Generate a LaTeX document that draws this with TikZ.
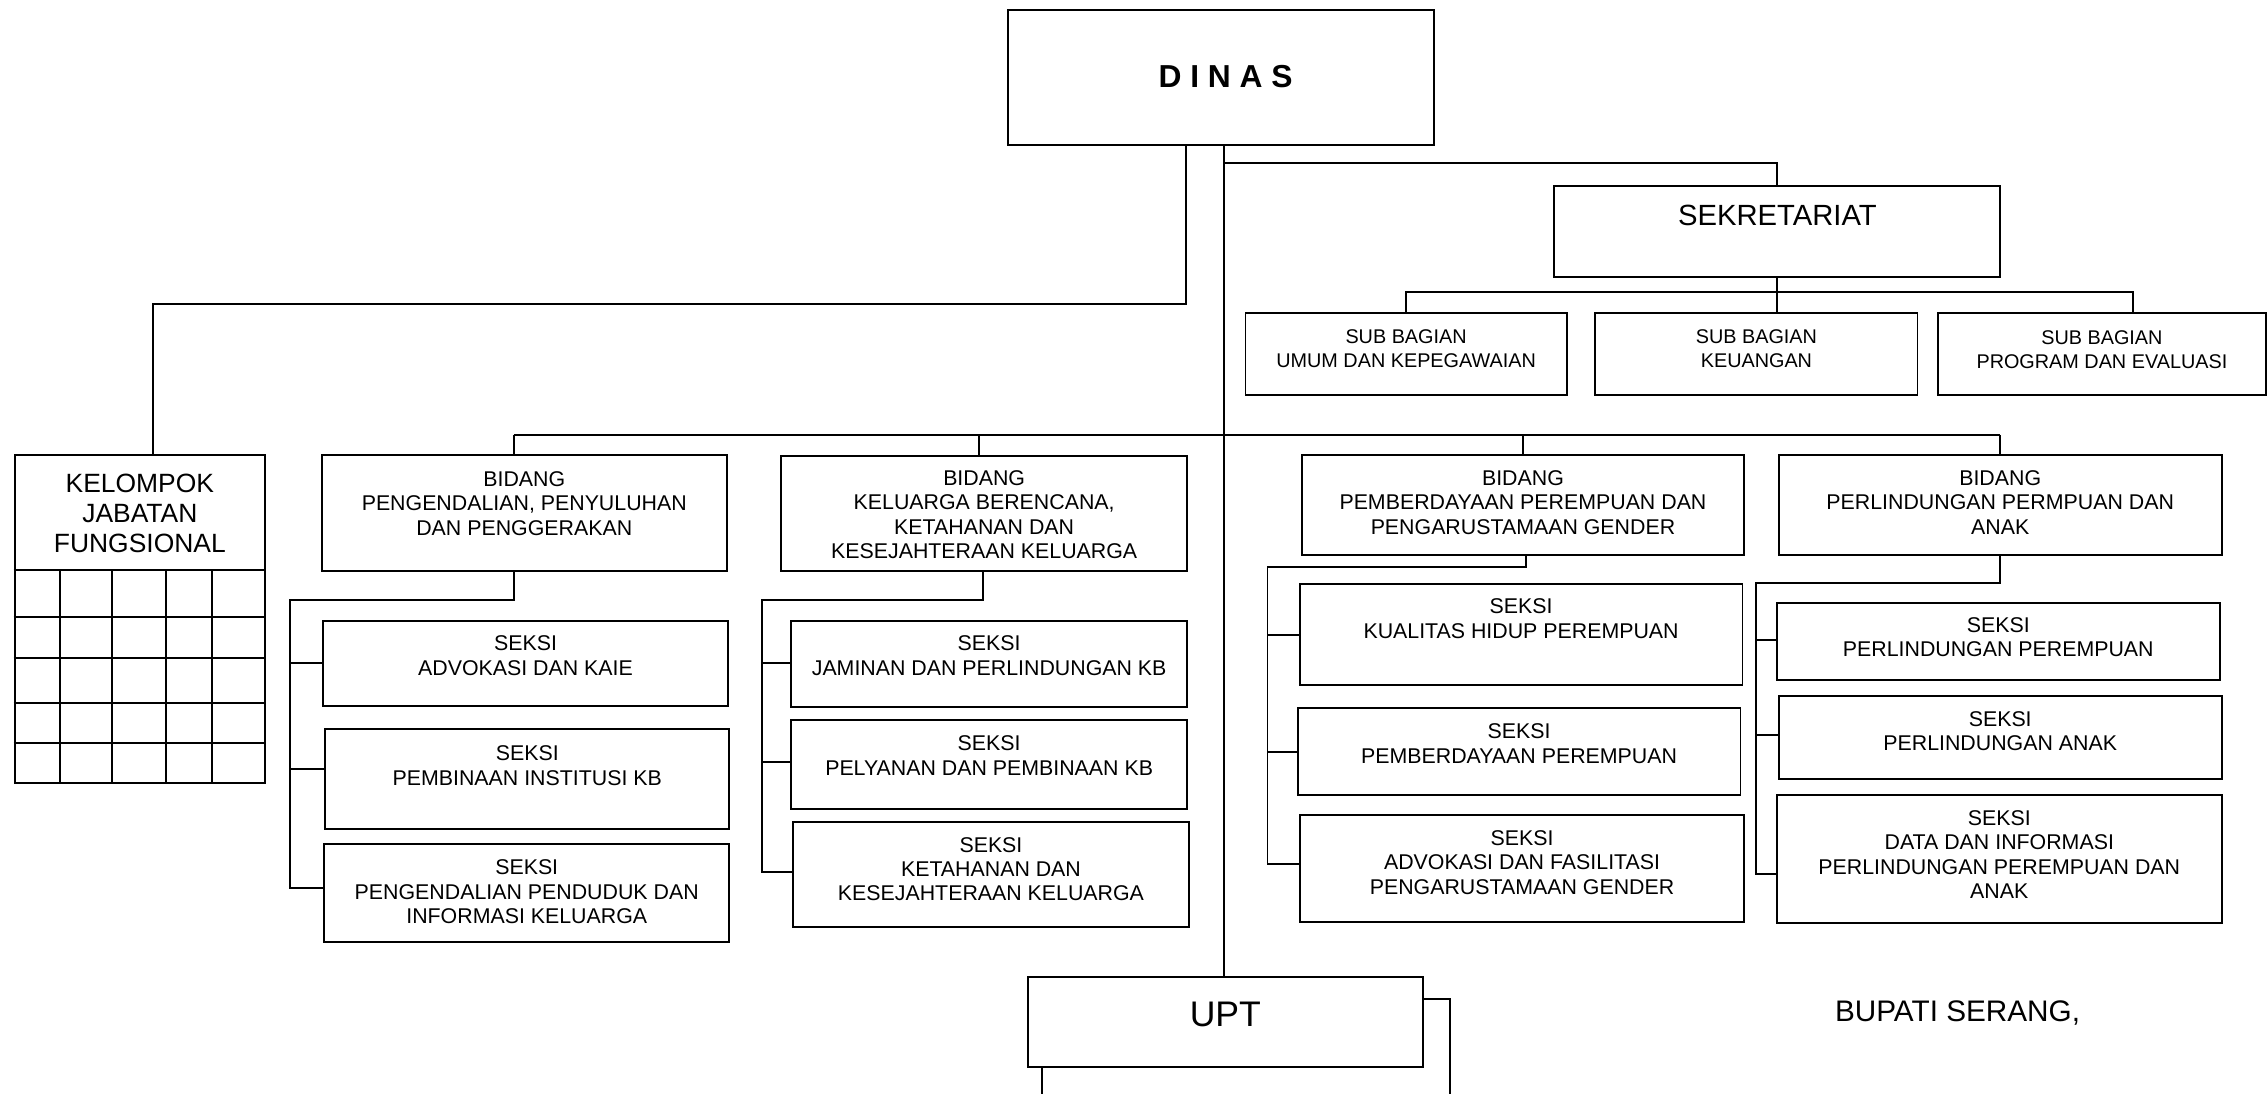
\documentclass[tikz,border=0pt]{standalone}
\usepackage{fontspec}
\setmainfont{Liberation Sans}
\newcommand\obox[8][]{\node[orgbox,minimum width=#5*0.02cm,minimum height=#6*0.02cm,label={[lab,#1,yshift=-#7*0.02cm]north:{#8}}] (#2) at (#3,#4) {};}
\begin{document}
\begin{tikzpicture}[x=0.02cm,y=-0.02cm,line width=0.75pt,
  orgbox/.style={draw,line width=0.75pt,inner sep=0pt,anchor=north west},
  lab/.style={inner sep=0pt,align=center,anchor=north,font=\fontsize{8.4}{9.6}\selectfont},
  sub/.style={font=\fontsize{7.8}{9.3}\selectfont},
  big/.style={font=\fontsize{11.5}{13}\selectfont},
  kel/.style={font=\fontsize{10.4}{11.9}\selectfont},
  uptf/.style={font=\fontsize{14}{16}\selectfont},
  dinf/.style={font=\bfseries\fontsize{12.5}{14}\selectfont}]
\useasboundingbox (0,0) rectangle (1568,756);

% top boxes
\obox[dinf,xshift=3*0.02cm]{dinas}{696.3}{6.2}{294.7}{93.3}{38}{D I N A S}
\obox[big]{sekr}{1074}{128.1}{308.3}{62.7}{12.9}{SEKRETARIAT}
\obox[sub]{sb1}{860.4}{215.5}{222.1}{57.1}{11.9}{SUB BAGIAN\\UMUM DAN KEPEGAWAIAN}
\obox[sub]{sb2}{1102.3}{215.5}{222.7}{57.1}{11.9}{SUB BAGIAN\\KEUANGAN}
\obox[sub]{sb3}{1339}{215.5}{227}{57.1}{12.5}{SUB BAGIAN\\PROGRAM DAN EVALUASI}

% kelompok jabatan fungsional
\obox[kel]{kjf}{9.4}{314.1}{173.2}{226.3}{12.8}{KELOMPOK\\JABATAN\\FUNGSIONAL}
\foreach \yy in {394,426.3,455.1,485.8,513.5}
  \draw (kjf.west |- 0,\yy) -- (kjf.east |- 0,\yy);
\foreach \xx in {41.5,77.7,114.6,146.8}
  \draw (\xx,394) -- (\xx,0 |- kjf.south);

% bidang
\obox{b1}{221.9}{314.1}{279.8}{80}{11.3}{BIDANG\\PENGENDALIAN, PENYULUHAN\\DAN PENGGERAKAN}
\obox{b2}{539.3}{314.6}{280.9}{79.5}{10.1}{BIDANG\\KELUARGA BERENCANA,\\KETAHANAN DAN\\KESEJAHTERAAN KELUARGA}
\obox{b3}{899.2}{314.1}{306.1}{69.2}{10.6}{BIDANG\\PEMBERDAYAAN PEREMPUAN DAN\\PENGARUSTAMAAN GENDER}
\obox{b4}{1229.1}{314.1}{306.2}{69.2}{10.6}{BIDANG\\PERLINDUNGAN PERMPUAN DAN\\ANAK}

% seksi
\obox{s1a}{222.9}{428.6}{279.5}{58.8}{10.4}{SEKSI\\ADVOKASI DAN KAIE}
\obox{s1b}{224.2}{503.5}{279.3}{68.7}{11.6}{SEKSI\\PEMBINAAN INSTITUSI KB}
\obox{s1c}{223.5}{583.1}{280}{67.2}{10.8}{SEKSI\\PENGENDALIAN PENDUDUK DAN\\INFORMASI KELUARGA}
\obox{s2a}{546.2}{428.6}{274}{59.3}{10.4}{SEKSI\\JAMINAN DAN PERLINDUNGAN KB}
\obox{s2b}{546.2}{497.1}{274}{61.8}{11.1}{SEKSI\\PELYANAN DAN PEMBINAAN KB}
\obox{s2c}{547.3}{567.4}{274.3}{72.6}{10.8}{SEKSI\\KETAHANAN DAN\\KESEJAHTERAAN KELUARGA}
\obox{s3a}{897.9}{402.8}{306.1}{70.3}{10.7}{SEKSI\\KUALITAS HIDUP PEREMPUAN}
\obox{s3b}{896.5}{488.6}{306.1}{60.6}{11.3}{SEKSI\\PEMBERDAYAAN PEREMPUAN}
\obox{s3c}{897.9}{563}{307.4}{73.5}{10.6}{SEKSI\\ADVOKASI DAN FASILITASI\\PENGARUSTAMAAN GENDER}
\obox{s4a}{1227.8}{416}{306.1}{53.7}{10.3}{SEKSI\\PERLINDUNGAN PEREMPUAN}
\obox{s4b}{1229.1}{480.7}{306.2}{57}{10.6}{SEKSI\\PERLINDUNGAN ANAK}
\obox{s4c}{1227.8}{549}{307.5}{88.2}{10.8}{SEKSI\\DATA DAN INFORMASI\\PERLINDUNGAN PEREMPUAN DAN\\ANAK}

% UPT
\obox[uptf]{upt}{709.9}{674.8}{273.2}{62}{17.2}{UPT}
\node[inner sep=0pt,anchor=base west,font=\fontsize{11.7}{13}\selectfont] (bupati) at (1268,706.5) {BUPATI SERANG,};

% connectors
\draw (820.1,0 |- dinas.south) -- (820.1,210.2) -- (105.6,210.2) -- (105.6,0 |- kjf.north);
\draw (846.2,0 |- dinas.south) -- (846.2,0 |- upt.north);
\draw (846.2,112.5) -| (sekr.north);
\draw (sekr.south) -- (sekr.south |- sb2.north);
\draw (sb1.north) |- (1474.4,201.9) -- (1474.4,0 |- sb3.north);

\draw (355.2,300.7) -- (1382.6,300.7);
\draw (355.2,300.7) -- (355.2,0 |- b1.north);
\draw (677,300.7) -- (677,0 |- b2.north);
\draw (1052.7,300.7) -- (1052.7,0 |- b3.north);
\draw (1382.6,300.7) -- (1382.6,0 |- b4.north);

\draw (355.2,0 |- b1.south) -- (355.2,414.8) -- (200.4,414.8) -- (200.4,614.2) -- (s1c.west |- 0,614.2);
\draw (200.4,458.6) -- (s1a.west |- 0,458.6);
\draw (200.4,531.9) -- (s1b.west |- 0,531.9);

\draw (679.9,0 |- b2.south) -- (679.9,414.8) -- (527,414.8) -- (527,603) -- (s2c.west |- 0,603);
\draw (527,458.6) -- (s2a.west |- 0,458.6);
\draw (527,527) -- (s2b.west |- 0,527);

\draw (1055,0 |- b3.south) -- (1055,392) -- (876.3,392) -- (876.3,597.6) -- (s3c.west |- 0,597.6);
\draw (876.3,439) -- (s3a.west |- 0,439);
\draw (876.3,520.1) -- (s3b.west |- 0,520.1);

\draw (1382.6,0 |- b4.south) -- (1382.6,402.8) -- (1214.3,402.8) -- (1214.3,604.3) -- (s4c.west |- 0,604.3);
\draw (1214.3,442.5) -- (s4a.west |- 0,442.5);
\draw (1214.3,508.2) -- (s4b.west |- 0,508.2);

\draw (upt.east |- 0,690.9) -- (1002.4,690.9) -- (1002.4,756);
\draw (720.1,0 |- upt.south) -- (720.1,756);
\end{tikzpicture}
\end{document}
